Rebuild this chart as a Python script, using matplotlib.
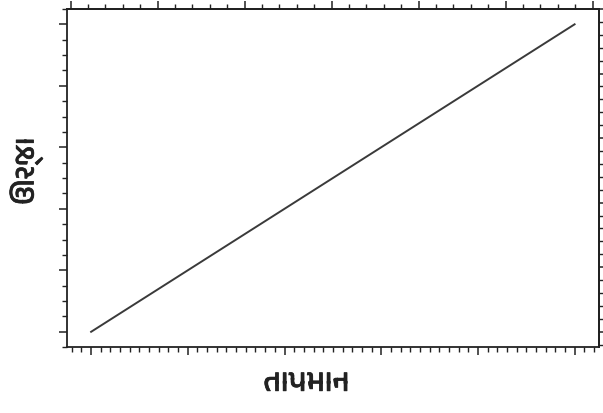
import matplotlib
matplotlib.use("Agg")
import matplotlib.pyplot as plt
from matplotlib import font_manager
from matplotlib import patheffects as pe
from matplotlib.ticker import MultipleLocator, NullFormatter

# data (straight line, temperature vs energy)
temperature = [0, 100]
energy = [0, 100]

x_label = "તાપમાન"
y_label = "ઊર્જા"

# pick a font that can draw Gujarati, if any is installed
names = sorted({f.name for f in font_manager.fontManager.ttflist})
guj = [n for n in names if "Gujarati" in n or n in ("Lohit Gujarati", "Shruti", "FreeSans", "FreeSerif")]
families = guj + ["Noto Sans", "DejaVu Sans"]
plt.rcParams["font.family"] = families

fig = plt.figure(figsize=(6.03, 4.14), dpi=100)
ax = fig.add_axes([0.111, 0.159, 0.882, 0.817])

ax.plot(temperature, energy, color="#3a3a3a", linewidth=1.4)

# bottom / left ticks
ax.xaxis.set_major_locator(MultipleLocator(20))
ax.xaxis.set_minor_locator(MultipleLocator(2))
ax.yaxis.set_major_locator(MultipleLocator(20))
ax.yaxis.set_minor_locator(MultipleLocator(5))
ax.xaxis.set_major_formatter(NullFormatter())
ax.yaxis.set_major_formatter(NullFormatter())
ax.tick_params(which="major", direction="out", length=6, width=1.1, color="#222")
ax.tick_params(which="minor", direction="out", length=3.5, width=1.0, color="#222")

# secondary scales on top and right
top = ax.secondary_xaxis("top", functions=(lambda x: (x + 4.26) / 3.6, lambda t: t * 3.6 - 4.26))
top.xaxis.set_major_locator(MultipleLocator(5))
top.xaxis.set_minor_locator(MultipleLocator(1))
top.xaxis.set_major_formatter(NullFormatter())
top.tick_params(which="major", direction="out", length=6, width=1.1, color="#222")
top.tick_params(which="minor", direction="out", length=3.5, width=1.0, color="#222")

right = ax.secondary_yaxis("right", functions=(lambda y: y / 4.2, lambda r: r * 4.2))
right.yaxis.set_major_locator(MultipleLocator(5))
right.yaxis.set_minor_locator(MultipleLocator(1))
right.yaxis.set_major_formatter(NullFormatter())
right.tick_params(which="major", direction="out", length=6, width=1.1, color="#222")
right.tick_params(which="minor", direction="out", length=3.5, width=1.0, color="#222")

for s in ax.spines.values():
    s.set_linewidth(1.3)
    s.set_color("#222")
top.spines["top"].set_linewidth(1.3)
right.spines["right"].set_linewidth(1.3)

bold = [pe.withStroke(linewidth=0.5, foreground="#222")]
xl = ax.set_xlabel(x_label, fontsize=22, fontweight="bold", color="#222")
xl.set_path_effects(bold)
ax.xaxis.set_label_coords(0.45, -0.07)
yl = ax.set_ylabel(y_label, fontsize=21, fontweight="bold", color="#222")
yl.set_path_effects(bold)
ax.yaxis.set_label_coords(-0.045, 0.52)

fig.savefig("out.png", dpi=100)
